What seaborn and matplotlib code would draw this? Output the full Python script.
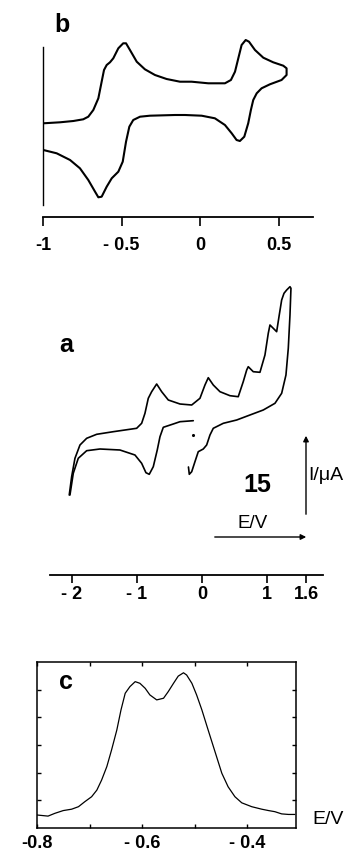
import matplotlib
matplotlib.use("Agg")
import matplotlib.pyplot as plt
import seaborn as sns

# ---- panel b: cyclic voltammogram, E/V vs current (arb. units)
b_E = [-0.998, -0.892, -0.807, -0.744, -0.712, -0.680, -0.648, -0.627, -0.612, -0.595,
       -0.574, -0.553, -0.521, -0.490, -0.472, -0.447, -0.404, -0.352, -0.288, -0.214,
       -0.129, -0.055, 0.051, 0.157, 0.195, 0.221, 0.242, 0.263, 0.289, 0.310,
       0.348, 0.401, 0.464, 0.528, 0.549, 0.549, 0.517, 0.443, 0.390, 0.359,
       0.337, 0.322, 0.305, 0.280, 0.252, 0.231, 0.200, 0.157, 0.093, 0.009,
       -0.097, -0.161, -0.320, -0.383, -0.426, -0.451, -0.472, -0.493, -0.521, -0.563,
       -0.595, -0.627, -0.648, -0.669, -0.712, -0.765, -0.828, -0.913, -0.998]
b_I = [0.67, 0.77, 0.90, 1.07, 1.33, 2.00, 3.17, 4.83, 6.00, 6.50,
       6.77, 7.17, 8.17, 8.67, 8.67, 8.00, 6.83, 6.07, 5.50, 5.10,
       4.83, 4.83, 4.67, 4.67, 5.00, 5.83, 7.17, 8.50, 9.00, 8.83,
       8.00, 7.23, 6.77, 6.43, 6.17, 5.50, 5.00, 4.57, 4.17, 3.67,
       3.00, 2.00, 0.67, -0.67, -1.10, -1.00, -0.33, 0.50, 1.17, 1.43,
       1.50, 1.50, 1.43, 1.33, 1.00, 0.33, -1.17, -3.17, -4.17, -4.83,
       -5.67, -6.67, -6.73, -6.17, -5.00, -3.83, -3.00, -2.33, -2.00]
b_ticks = [-1, -0.5, 0, 0.5]
b_ticklabels = ["-1", "- 0.5", "0", "0.5"]

# ---- panel a: wide-range CV, two traced segments plus an isolated dot
a_E1 = [-2.042, -2.005, -1.954, -1.877, -1.774, -1.620, -1.365, -1.005, -0.928, -0.877,
        -0.826, -0.774, -0.697, -0.620, -0.518, -0.338, -0.158, -0.031, 0.046, 0.097,
        0.174, 0.277, 0.431, 0.558, 0.635, 0.688, 0.712, 0.789, 0.892, 0.969,
        1.020, 1.046, 1.097, 1.149, 1.189, 1.226, 1.262, 1.303, 1.354, 1.369,
        1.354, 1.328, 1.292, 1.226, 1.123, 0.943, 0.738, 0.534, 0.328, 0.174,
        0.123, 0.072, 0.020, -0.057, -0.108, -0.158, -0.195, -0.208]
a_I1 = [0.50, 2.33, 4.17, 5.50, 6.17, 6.57, 6.83, 7.17, 7.67, 8.67,
        10.17, 10.83, 11.60, 10.83, 10.00, 9.60, 9.50, 10.17, 11.50, 12.23,
        11.50, 10.83, 10.43, 10.33, 11.83, 13.00, 13.33, 12.83, 12.77, 14.50,
        16.67, 17.50, 17.17, 16.83, 18.50, 20.00, 20.67, 21.00, 21.33, 21.17,
        18.50, 15.17, 12.50, 10.67, 9.67, 9.00, 8.50, 8.00, 7.67, 7.17,
        6.50, 5.50, 5.10, 4.83, 3.83, 2.83, 2.57, 3.30]
a_E2 = [-0.134, -0.338, -0.442, -0.595, -0.646, -0.688, -0.749, -0.811, -0.862, -0.928,
        -1.031, -1.262, -1.569, -1.774, -1.903, -1.980, -2.031]
a_I2 = [7.93, 7.83, 7.60, 7.27, 6.33, 5.00, 3.33, 2.57, 2.73, 3.67,
        4.50, 5.00, 5.10, 4.93, 4.17, 2.67, 0.50]
a_dot_E = [-0.134]
a_dot_I = [6.5]
a_ticks = [-2, -1, 0, 1, 1.6]
a_ticklabels = ["- 2", "- 1", "0", "1", "1.6"]

# ---- panel c: differential pulse trace
c_E = [-0.800, -0.779, -0.766, -0.750, -0.734, -0.721, -0.709, -0.696, -0.686, -0.677,
       -0.667, -0.658, -0.648, -0.640, -0.632, -0.623, -0.613, -0.604, -0.594, -0.585,
       -0.572, -0.559, -0.550, -0.540, -0.531, -0.521, -0.515, -0.505, -0.496, -0.486,
       -0.474, -0.461, -0.448, -0.436, -0.423, -0.410, -0.391, -0.372, -0.359, -0.347,
       -0.334, -0.321, -0.309]
c_I = [0.47, 0.43, 0.53, 0.63, 0.68, 0.77, 0.95, 1.13, 1.37, 1.73,
       2.22, 2.82, 3.54, 4.27, 4.87, 5.11, 5.29, 5.23, 5.05, 4.81,
       4.63, 4.69, 4.93, 5.23, 5.49, 5.61, 5.53, 5.23, 4.81, 4.27,
       3.54, 2.76, 1.98, 1.49, 1.13, 0.91, 0.77, 0.68, 0.63, 0.59,
       0.51, 0.49, 0.49]
c_major = [-0.8, -0.6, -0.4]
c_ticklabels = ["-0.8", "- 0.6", "- 0.4"]
c_minor = [-0.7, -0.5]
c_yticks = [1, 2, 3, 4, 5]

sns.set_theme(style="ticks", rc={"axes.edgecolor": "black", "xtick.color": "black",
                                 "ytick.color": "black", "text.color": "black",
                                 "lines.solid_joinstyle": "round"})
plt.rcParams['font.family'] = ['Liberation Sans', 'DejaVu Sans']

W, H = 349, 858
fig = plt.figure(figsize=(W / 100, H / 100), dpi=100)


def box(l, t, r, b):
    return [l / W, 1 - b / H, (r - l) / W, (b - t) / H]


def fpos(x, y):
    return (x / W, 1 - y / H)


line_kw = dict(sort=False, estimator=None, color="black")
tick_font = dict(fontsize=13, fontweight="bold")

# panel b
ax_b = fig.add_axes(box(43, 38, 313, 207))
sns.lineplot(x=b_E, y=b_I, lw=1.5, ax=ax_b, **line_kw)
ax_b.set_xlim(-1, 0.717)
ax_b.set_ylim(-7.7, 9.2)
sns.despine(ax=ax_b, offset={"bottom": 7.2})
ax_b.spines["left"].set_bounds(-7.5, 8.3)
ax_b.spines["left"].set_linewidth(1.0)
ax_b.spines["bottom"].set_linewidth(1.3)
ax_b.set_xticks(b_ticks)
ax_b.set_xticklabels(b_ticklabels, **tick_font)
ax_b.set_yticks([])
ax_b.tick_params(axis="x", length=6.5, width=1.2, pad=8, direction="out")
fig.text(*fpos(62, 25), "b", fontsize=18, fontweight="bold", ha="center", va="center")

# panel a
ax_a = fig.add_axes(box(50, 280, 323, 575))
sns.lineplot(x=a_E1, y=a_I1, lw=1.2, ax=ax_a, **line_kw)
sns.lineplot(x=a_E2, y=a_I2, lw=1.2, ax=ax_a, **line_kw)
sns.scatterplot(x=a_dot_E, y=a_dot_I, color="black", s=5, linewidth=0, ax=ax_a)
ax_a.set_xlim(-2.338, 1.862)
ax_a.set_ylim(-7.5, 22.0)
sns.despine(ax=ax_a, left=True)
ax_a.spines["bottom"].set_linewidth(1.3)
ax_a.set_xticks(a_ticks)
ax_a.set_xticklabels(a_ticklabels, **tick_font)
ax_a.set_yticks([])
ax_a.tick_params(axis="x", length=6, width=1.2, pad=2, direction="out")
fig.text(*fpos(66, 345), "a", fontsize=18, fontweight="bold", ha="center", va="center")

# scale bar annotations
arrow_kw = dict(arrowstyle="-|>", lw=1.0, color="black", mutation_scale=8)
ax_a.annotate("", xy=fpos(306, 433), xytext=fpos(306, 517), xycoords="figure fraction",
              textcoords="figure fraction", arrowprops=arrow_kw)
ax_a.annotate("", xy=fpos(309, 537), xytext=fpos(212, 537), xycoords="figure fraction",
              textcoords="figure fraction", arrowprops=arrow_kw)
fig.text(*fpos(308, 476), "I/\u03bcA", fontsize=14, ha="left", va="center")
fig.text(*fpos(257, 485), "15", fontsize=18, fontweight="bold", ha="center", va="center")
fig.text(*fpos(253, 523), "E/V", fontsize=13.5, ha="center", va="center")

# panel c
ax_c = fig.add_axes(box(37, 662, 296, 828))
sns.lineplot(x=c_E, y=c_I, lw=0.9, ax=ax_c, **line_kw)
ax_c.set_xlim(-0.8, -0.3067)
ax_c.set_ylim(0, 6)
for s in ax_c.spines.values():
    s.set_linewidth(1.1)
ax_c.set_xticks(c_major)
ax_c.set_xticklabels(c_ticklabels, **tick_font)
ax_c.set_xticks(c_minor, minor=True)
ax_c.set_yticks(c_yticks)
ax_c.set_yticklabels([])
ax_c.tick_params(axis="both", which="both", direction="in", length=3, width=1.0,
                 top=True, right=True, pad=5)
fig.text(*fpos(66, 682), "c", fontsize=18, fontweight="bold", ha="center", va="center")
fig.text(*fpos(328, 820), "E/V", fontsize=14, ha="center", va="center")

fig.savefig("out.png", dpi=100)
